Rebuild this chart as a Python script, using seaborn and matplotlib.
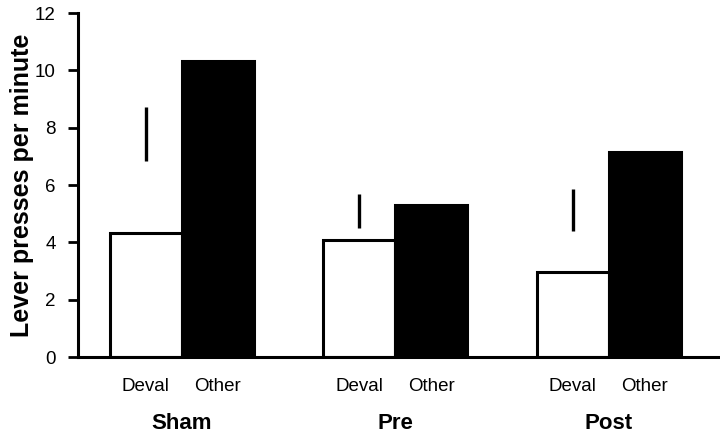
import pandas as pd
import seaborn as sns
import matplotlib.pyplot as plt
import matplotlib.transforms as mtransforms

groups = ['Sham', 'Pre', 'Post']
conditions = ['Deval', 'Other']
deval_vals = [4.33, 4.08, 2.96]
other_vals = [10.33, 5.30, 7.15]
# floating error lines above the Deval bars (low, high)
err_low = [6.84, 4.50, 4.40]
err_high = [8.72, 5.69, 5.86]

sns.set_style('ticks')
plt.rcParams['font.family'] = ['Liberation Sans', 'DejaVu Sans']
for k in ['text.color', 'axes.labelcolor', 'xtick.color', 'ytick.color',
          'axes.edgecolor']:
    plt.rcParams[k] = 'black'

df = pd.DataFrame({
    'group': groups * 2,
    'condition': ['Deval'] * 3 + ['Other'] * 3,
    'value': deval_vals + other_vals,
})

fig = plt.figure(figsize=(7.2, 4.34), dpi=100)
ax = fig.add_axes([0.108, 0.177, 0.892, 0.793])

sns.barplot(data=df, x='group', y='value', hue='condition',
            order=groups, hue_order=conditions,
            palette=['white', 'black'], edgecolor='black', linewidth=2.2,
            width=0.675, gap=0, legend=False, ax=ax)

# error lines at the centre of each Deval bar
deval_x = [p.get_x() + p.get_width() / 2 for p in ax.containers[0]]
other_x = [p.get_x() + p.get_width() / 2 for p in ax.containers[1]]
ax.vlines(deval_x, err_low, err_high, color='black', linewidth=2.4)

ax.set_ylim(0, 12)
ax.set_xlim(-0.487, 2.52)
ax.set_yticks(range(0, 13, 2))
ax.tick_params(axis='y', labelsize=13.5, width=2, length=7, pad=9,
               direction='out')
ax.set_ylabel('Lever presses per minute', fontsize=18, fontweight='bold')
ax.yaxis.set_label_coords(-0.068, 0.5)
ax.set_xlabel('')

bar_x = []
bar_lab = []
for d, o in zip(deval_x, other_x):
    bar_x += [d, o]
    bar_lab += conditions
ax.set_xticks(bar_x)
ax.set_xticklabels(bar_lab, fontsize=13.5)
ax.tick_params(axis='x', length=0, pad=15)

trans = mtransforms.blended_transform_factory(ax.transData, ax.transAxes)
for i, g in enumerate(groups):
    ax.text(i, -0.192, g, transform=trans, ha='center', va='center',
            fontsize=16, fontweight='bold')

for side in ['top', 'right']:
    ax.spines[side].set_visible(False)
ax.spines['left'].set_linewidth(2.2)
ax.spines['bottom'].set_linewidth(2.2)

fig.savefig('out.png', dpi=100)
